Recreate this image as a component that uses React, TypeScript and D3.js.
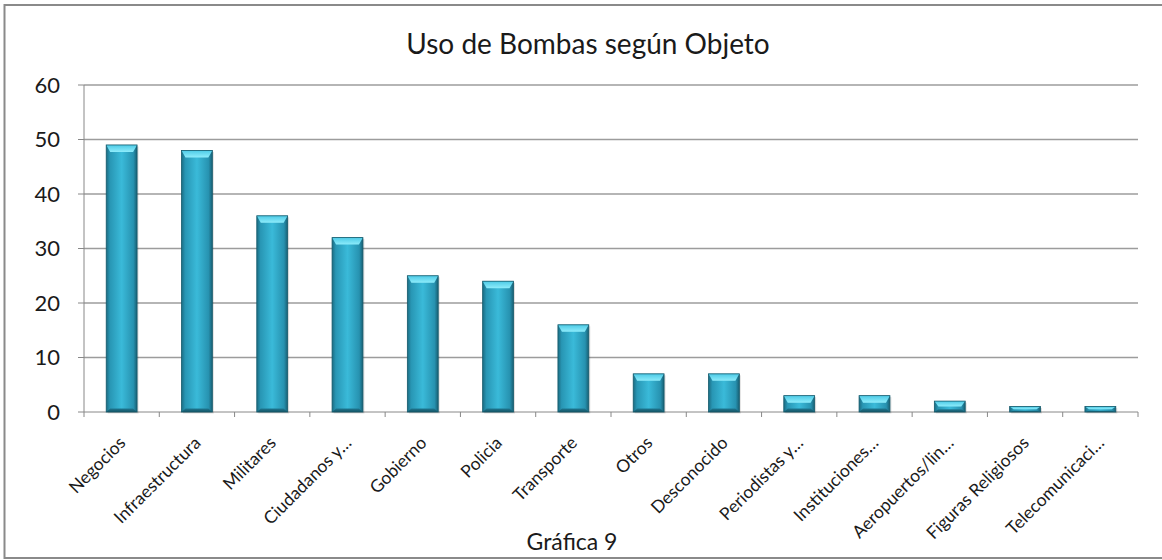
import React from "react";
import * as d3 from "d3";

const categories = [
  "Negocios",
  "Infraestructura",
  "Militares",
  "Ciudadanos y…",
  "Gobierno",
  "Policia",
  "Transporte",
  "Otros",
  "Desconocido",
  "Periodistas y…",
  "Instituciones…",
  "Aeropuertos/lin…",
  "Figuras Religiosos",
  "Telecomunicaci…",
];
const values = [49, 48, 36, 32, 25, 24, 16, 7, 7, 3, 3, 2, 1, 1];
const yTicks = [0, 10, 20, 30, 40, 50, 60];

const title = "Uso de Bombas según Objeto";
const axisTitle = "Gráfica 9";

const W = 1162;
const H = 560;
const left = 84;
const right = 1138;
const top = 85;
const bottom = 412;
const FONT = "Lato, 'Open Sans', sans-serif";

export default function App() {
  const x = d3
    .scaleBand<string>()
    .domain(categories)
    .range([left, right])
    .paddingInner(0.59)
    .paddingOuter(0.295);
  const y = d3.scaleLinear().domain([0, 60]).range([bottom, top]);
  const step = x.step();
  const bw = x.bandwidth();

  return (
    <div style={{ position: "absolute", left: 0, top: 0 }}>
      <svg width={W} height={H} style={{ display: "block", background: "#fff" }}>
        <defs>
          <linearGradient id="barBody" x1="0" y1="0" x2="1" y2="0">
            <stop offset="0" stopColor="#1b6c82" />
            <stop offset="0.12" stopColor="#2896b4" />
            <stop offset="0.5" stopColor="#3abad9" />
            <stop offset="0.88" stopColor="#2792b0" />
            <stop offset="1" stopColor="#185f73" />
          </linearGradient>
          <linearGradient id="barCap" x1="0" y1="0" x2="0" y2="1">
            <stop offset="0" stopColor="#4ccae6" />
            <stop offset="1" stopColor="#8eecfb" />
          </linearGradient>
          <linearGradient id="barBase" x1="0" y1="0" x2="0" y2="1">
            <stop offset="0" stopColor="#1f7790" />
            <stop offset="1" stopColor="#155466" />
          </linearGradient>
        </defs>

        {/* chart frame */}
        <rect x={4.5} y={5} width={1170} height={553} fill="none" stroke="#8a8a8a" strokeWidth={2} />

        <text x={588} y={54} textAnchor="middle" fontFamily={FONT} fontSize={28} fill="#1a1a1a">
          {title}
        </text>

        {/* gridlines and value axis */}
        {yTicks.map((t) => (
          <g key={t}>
            {t > 0 && (
              <line x1={left} x2={right} y1={y(t)} y2={y(t)} stroke="#9c9c9c" strokeWidth={1.5} />
            )}
            <line x1={left - 6} x2={left} y1={y(t)} y2={y(t)} stroke="#888" strokeWidth={1} />
            <text
              x={60}
              y={y(t)}
              dy="0.35em"
              textAnchor="end"
              fontFamily={FONT}
              fontSize={22}
              fill="#1a1a1a"
            >
              {t}
            </text>
          </g>
        ))}
        <line x1={left} x2={left} y1={top} y2={bottom} stroke="#888" strokeWidth={1} />
        <line x1={left} x2={right} y1={bottom} y2={bottom} stroke="#888" strokeWidth={1} />
        {d3.range(categories.length + 1).map((i) => (
          <line
            key={i}
            x1={left + i * step}
            x2={left + i * step}
            y1={bottom}
            y2={bottom + 5}
            stroke="#888"
            strokeWidth={1}
          />
        ))}

        {/* bars */}
        {categories.map((c, i) => {
          const x0 = x(c)!;
          const y0 = y(values[i]);
          const h = bottom - y0;
          const bev = Math.min(7, h / 2);
          const side = 4;
          return (
            <g key={c}>
              <rect x={x0 + 1.5} y={y0 + 1.5} width={bw} height={h} fill="#000" opacity={0.12} />
              <rect x={x0} y={y0} width={bw} height={h} fill="url(#barBody)" />
              <polygon
                points={`${x0},${y0} ${x0 + bw},${y0} ${x0 + bw - side},${y0 + bev} ${x0 + side},${y0 + bev}`}
                fill="url(#barCap)"
              />
              <polygon
                points={`${x0},${bottom} ${x0 + bw},${bottom} ${x0 + bw - side},${bottom - bev * 0.5} ${x0 + side},${bottom - bev * 0.5}`}
                fill="url(#barBase)"
              />
              <rect x={x0} y={y0} width={bw} height={h} fill="none" stroke="#155a6c" strokeWidth={0.8} />
            </g>
          );
        })}

        {/* category labels */}
        {categories.map((c) => {
          const cx = x(c)! + bw / 2;
          return (
            <text
              key={c}
              transform={`translate(${cx + 5},${bottom + 32}) rotate(-45)`}
              textAnchor="end"
              fontFamily={FONT}
              fontSize={17.5}
              fill="#1a1a1a"
            >
              {c}
            </text>
          );
        })}

        <text x={572} y={550} textAnchor="middle" fontFamily={FONT} fontSize={23} fill="#1a1a1a">
          {axisTitle}
        </text>
      </svg>
    </div>
  );
}
